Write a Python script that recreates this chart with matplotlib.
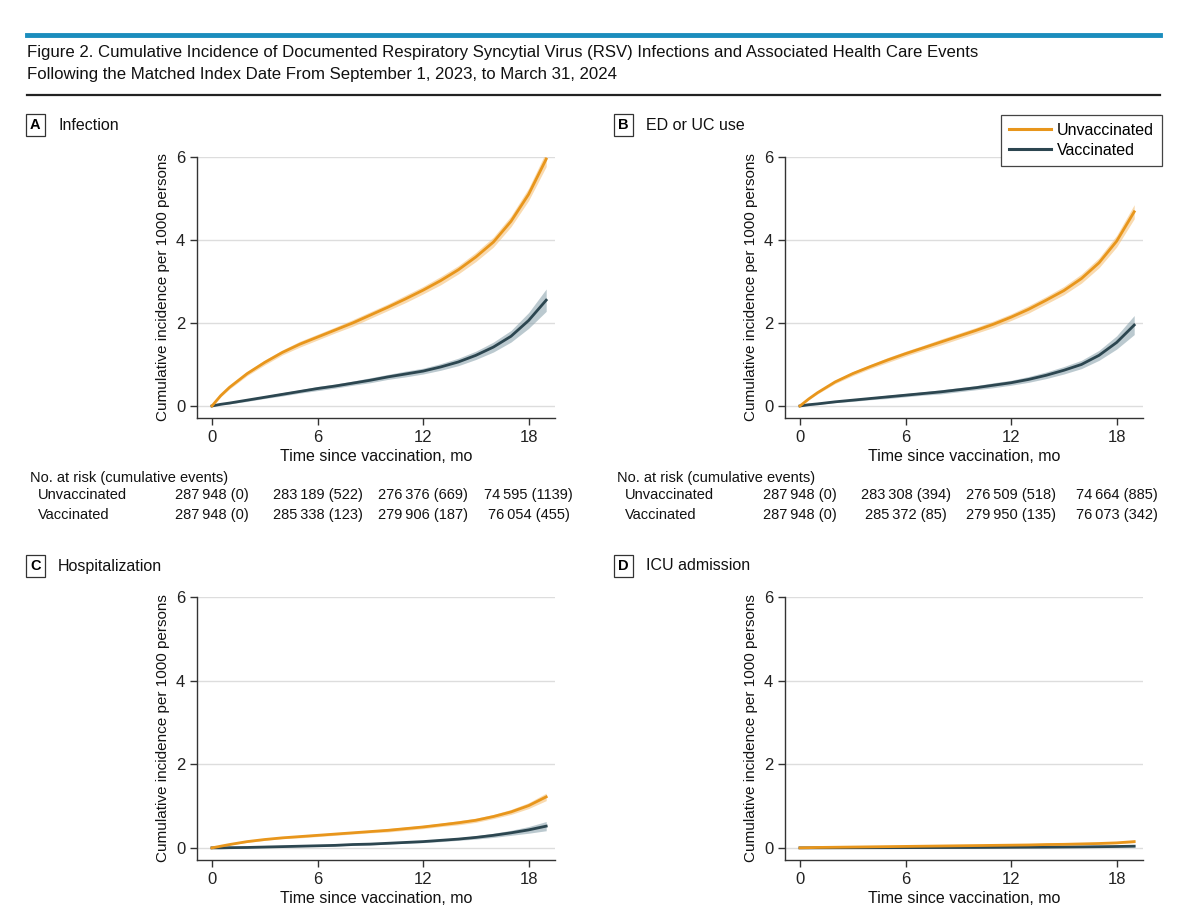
import matplotlib
matplotlib.use("Agg")
import matplotlib.pyplot as plt
from matplotlib.lines import Line2D

plt.rcParams['font.family'] = ['Liberation Sans', 'DejaVu Sans']

# months since vaccination
months = [0, 0.5, 1, 2, 3, 4, 5, 6, 7, 8, 9, 10, 11, 12, 13, 14, 15, 16, 17, 18, 19]

# cumulative incidence per 1000 persons
inf_unvax = [0, 0.25, 0.45, 0.78, 1.05, 1.29, 1.49, 1.66, 1.83, 2.00, 2.19, 2.38,
             2.58, 2.79, 3.02, 3.28, 3.59, 3.95, 4.45, 5.10, 5.95]
inf_unvax_hw = [0, 0.03, 0.04, 0.05, 0.06, 0.06, 0.07, 0.07, 0.07, 0.08, 0.08, 0.08,
                0.09, 0.09, 0.10, 0.10, 0.11, 0.12, 0.13, 0.15, 0.18]
inf_vax = [0, 0.04, 0.07, 0.14, 0.21, 0.28, 0.35, 0.42, 0.48, 0.55, 0.62, 0.70,
           0.77, 0.84, 0.94, 1.06, 1.22, 1.42, 1.68, 2.06, 2.55]
inf_vax_hw = [0, 0.01, 0.02, 0.03, 0.03, 0.04, 0.04, 0.05, 0.05, 0.05, 0.06, 0.06,
              0.07, 0.07, 0.08, 0.09, 0.10, 0.12, 0.14, 0.19, 0.27]

ed_unvax = [0, 0.17, 0.32, 0.58, 0.78, 0.95, 1.11, 1.26, 1.40, 1.54, 1.68, 1.82,
            1.97, 2.14, 2.33, 2.55, 2.78, 3.07, 3.45, 3.97, 4.68]
ed_unvax_hw = [0, 0.02, 0.03, 0.04, 0.05, 0.05, 0.06, 0.06, 0.06, 0.07, 0.07, 0.07,
               0.08, 0.08, 0.09, 0.09, 0.10, 0.11, 0.12, 0.14, 0.17]
ed_vax = [0, 0.03, 0.05, 0.10, 0.14, 0.18, 0.22, 0.26, 0.30, 0.34, 0.39, 0.44,
          0.50, 0.56, 0.64, 0.74, 0.86, 1.00, 1.22, 1.53, 1.95]
ed_vax_hw = [0, 0.01, 0.01, 0.02, 0.03, 0.03, 0.04, 0.04, 0.04, 0.05, 0.05, 0.05,
             0.06, 0.06, 0.07, 0.08, 0.09, 0.10, 0.12, 0.16, 0.23]

hosp_unvax = [0, 0.04, 0.08, 0.15, 0.20, 0.24, 0.27, 0.30, 0.33, 0.36, 0.39, 0.42,
              0.46, 0.50, 0.55, 0.60, 0.66, 0.75, 0.86, 1.01, 1.22]
hosp_unvax_hw = [0, 0.01, 0.01, 0.02, 0.02, 0.02, 0.03, 0.03, 0.03, 0.03, 0.03, 0.04,
                 0.04, 0.04, 0.04, 0.05, 0.05, 0.05, 0.06, 0.07, 0.09]
hosp_vax = [0, 0.0, 0.005, 0.01, 0.02, 0.03, 0.04, 0.05, 0.06, 0.08, 0.09, 0.11,
            0.13, 0.15, 0.18, 0.21, 0.25, 0.30, 0.36, 0.43, 0.52]
hosp_vax_hw = [0, 0.0, 0.005, 0.005, 0.01, 0.01, 0.01, 0.01, 0.015, 0.015, 0.02, 0.02,
               0.02, 0.025, 0.03, 0.03, 0.04, 0.05, 0.06, 0.08, 0.11]

icu_unvax = [0, 0.005, 0.01, 0.015, 0.02, 0.025, 0.03, 0.035, 0.04, 0.045, 0.05, 0.055,
             0.06, 0.065, 0.07, 0.08, 0.085, 0.095, 0.105, 0.12, 0.15]
icu_unvax_hw = [0, 0.002, 0.003, 0.004, 0.005, 0.006, 0.007, 0.008, 0.008, 0.009, 0.01, 0.01,
                0.011, 0.012, 0.013, 0.014, 0.015, 0.017, 0.019, 0.022, 0.028]
icu_vax = [0, 0.0, 0.001, 0.002, 0.003, 0.004, 0.005, 0.006, 0.007, 0.008, 0.009, 0.01,
           0.012, 0.014, 0.016, 0.018, 0.021, 0.024, 0.028, 0.033, 0.04]
icu_vax_hw = [0, 0.0, 0.001, 0.001, 0.001, 0.002, 0.002, 0.002, 0.003, 0.003, 0.003, 0.004,
              0.004, 0.005, 0.005, 0.006, 0.007, 0.008, 0.009, 0.011, 0.015]

panel_letters = ["A", "B", "C", "D"]
panel_titles = ["Infection", "ED or UC use", "Hospitalization", "ICU admission"]

# number at risk (cumulative events) at 0, 6, 12, 18 mo
risk_times = [0, 6, 12, 18]
risk_a_unvax = ["287\u2009948 (0)", "283\u2009189 (522)", "276\u2009376 (669)", "74\u2009595 (1139)"]
risk_a_vax = ["287\u2009948 (0)", "285\u2009338 (123)", "279\u2009906 (187)", "76\u2009054 (455)"]
risk_b_unvax = ["287\u2009948 (0)", "283\u2009308 (394)", "276\u2009509 (518)", "74\u2009664 (885)"]
risk_b_vax = ["287\u2009948 (0)", "285\u2009372 (85)", "279\u2009950 (135)", "76\u2009073 (342)"]

ORANGE = "#E8961C"
ORANGE_BAND = "#F5C27A"
SLATE = "#2C4650"
SLATE_BAND = "#8FA6B0"
AXCOL = "#333333"
TXT = "#111111"

fig = plt.figure(figsize=(12, 9.06), dpi=100)

# header rules and title
fig.add_artist(Line2D([27 / 1200, 1160 / 1200], [1 - 35 / 906] * 2, color="#1B8DBD", lw=3.5))
fig.add_artist(Line2D([27 / 1200, 1160 / 1200], [1 - 95 / 906] * 2, color="#222222", lw=1.6))
fig.text(27 / 1200, 1 - 52 / 906,
         "Figure 2. Cumulative Incidence of Documented Respiratory Syncytial Virus (RSV) "
         "Infections and Associated Health Care Events",
         fontsize=12.1, va="center", ha="left", color=TXT)
fig.text(27 / 1200, 1 - 75 / 906,
         "Following the Matched Index Date From September 1, 2023, to March 31, 2024",
         fontsize=12.1, va="center", ha="left", color=TXT)

series = [
    (inf_unvax, inf_unvax_hw, inf_vax, inf_vax_hw),
    (ed_unvax, ed_unvax_hw, ed_vax, ed_vax_hw),
    (hosp_unvax, hosp_unvax_hw, hosp_vax, hosp_vax_hw),
    (icu_unvax, icu_unvax_hw, icu_vax, icu_vax_hw),
]

lefts = [197, 785, 197, 785]
tops = [157, 157, 597, 597]
bottoms = [418, 418, 860, 860]
width_px = 358
axes = []
for i in range(4):
    l = lefts[i] / 1200
    b = 1 - bottoms[i] / 906
    h = (bottoms[i] - tops[i]) / 906
    ax = fig.add_axes([l, b, width_px / 1200, h])
    axes.append(ax)
    u, uhw, v, vhw = series[i]
    ulo = [a - c for a, c in zip(u, uhw)]
    uhi = [a + c for a, c in zip(u, uhw)]
    vlo = [a - c for a, c in zip(v, vhw)]
    vhi = [a + c for a, c in zip(v, vhw)]
    ax.fill_between(months, vlo, vhi, color=SLATE_BAND, alpha=0.6, lw=0, zorder=2)
    ax.fill_between(months, ulo, uhi, color=ORANGE_BAND, alpha=0.6, lw=0, zorder=2)
    ax.plot(months, v, color=SLATE, lw=2.0, zorder=3, label="Vaccinated")
    ax.plot(months, u, color=ORANGE, lw=2.0, zorder=4, label="Unvaccinated")

    ax.set_xlim(-0.85, 19.5)
    ax.set_ylim(-0.29, 6.0)
    ax.set_xticks([0, 6, 12, 18])
    ax.set_yticks([0, 2, 4, 6])
    ax.yaxis.grid(True, color="#DDDDDD", lw=1)
    ax.set_axisbelow(True)
    for s in ["top", "right"]:
        ax.spines[s].set_visible(False)
    for s in ["left", "bottom"]:
        ax.spines[s].set_color(AXCOL)
        ax.spines[s].set_linewidth(1.0)
    ax.tick_params(colors=AXCOL, labelsize=12, length=5, width=1.0, labelcolor="#222222")
    ax.set_xlabel("Time since vaccination, mo", fontsize=11.5, color=TXT, labelpad=3)
    ax.set_ylabel("Cumulative incidence per 1000 persons", fontsize=11, color=TXT, labelpad=4)

    # panel label box
    px = 30 if i % 2 == 0 else 618
    py = 125 if i < 2 else 566
    fig.text(px / 1200, 1 - py / 906, panel_letters[i], fontsize=10.5, fontweight="bold",
             ha="left", va="center",
             bbox=dict(boxstyle="square,pad=0.3", fc="white", ec="#333333", lw=0.9))
    fig.text((px + 28) / 1200, 1 - py / 906, panel_titles[i], fontsize=11.5,
             ha="left", va="center", color=TXT)

# legend in panel B
handles = [Line2D([], [], color=ORANGE, lw=2.2), Line2D([], [], color=SLATE, lw=2.2)]
leg = fig.legend(handles, ["Unvaccinated", "Vaccinated"], loc="upper right",
                 bbox_to_anchor=(1162 / 1200, 1 - 115 / 906), fontsize=11.5,
                 frameon=True, fancybox=False, edgecolor="#444444", framealpha=1,
                 handlelength=2.6, handletextpad=0.4, borderpad=0.5, labelspacing=0.3,
                 borderaxespad=0)
leg.get_frame().set_linewidth(0.9)

# risk tables under panels A and B
tables = [(axes[0], 30, risk_a_unvax, risk_a_vax), (axes[1], 617, risk_b_unvax, risk_b_vax)]
for ax, hx, row_u, row_v in tables:
    fig.text(hx / 1200, 1 - 478 / 906, "No. at risk (cumulative events)", fontsize=10.5,
             ha="left", va="center", color=TXT)
    fig.text((hx + 8) / 1200, 1 - 495 / 906, "Unvaccinated", fontsize=10.5,
             ha="left", va="center", color=TXT)
    fig.text((hx + 8) / 1200, 1 - 515 / 906, "Vaccinated", fontsize=10.5,
             ha="left", va="center", color=TXT)
    for t, su, sv in zip(risk_times, row_u, row_v):
        xf = fig.transFigure.inverted().transform(ax.transData.transform((t, 0)))[0]
        fig.text(xf, 1 - 495 / 906, su, fontsize=10.5, ha="center", va="center", color=TXT)
        fig.text(xf, 1 - 515 / 906, sv, fontsize=10.5, ha="center", va="center", color=TXT)

plt.savefig("out.png", dpi=100)
